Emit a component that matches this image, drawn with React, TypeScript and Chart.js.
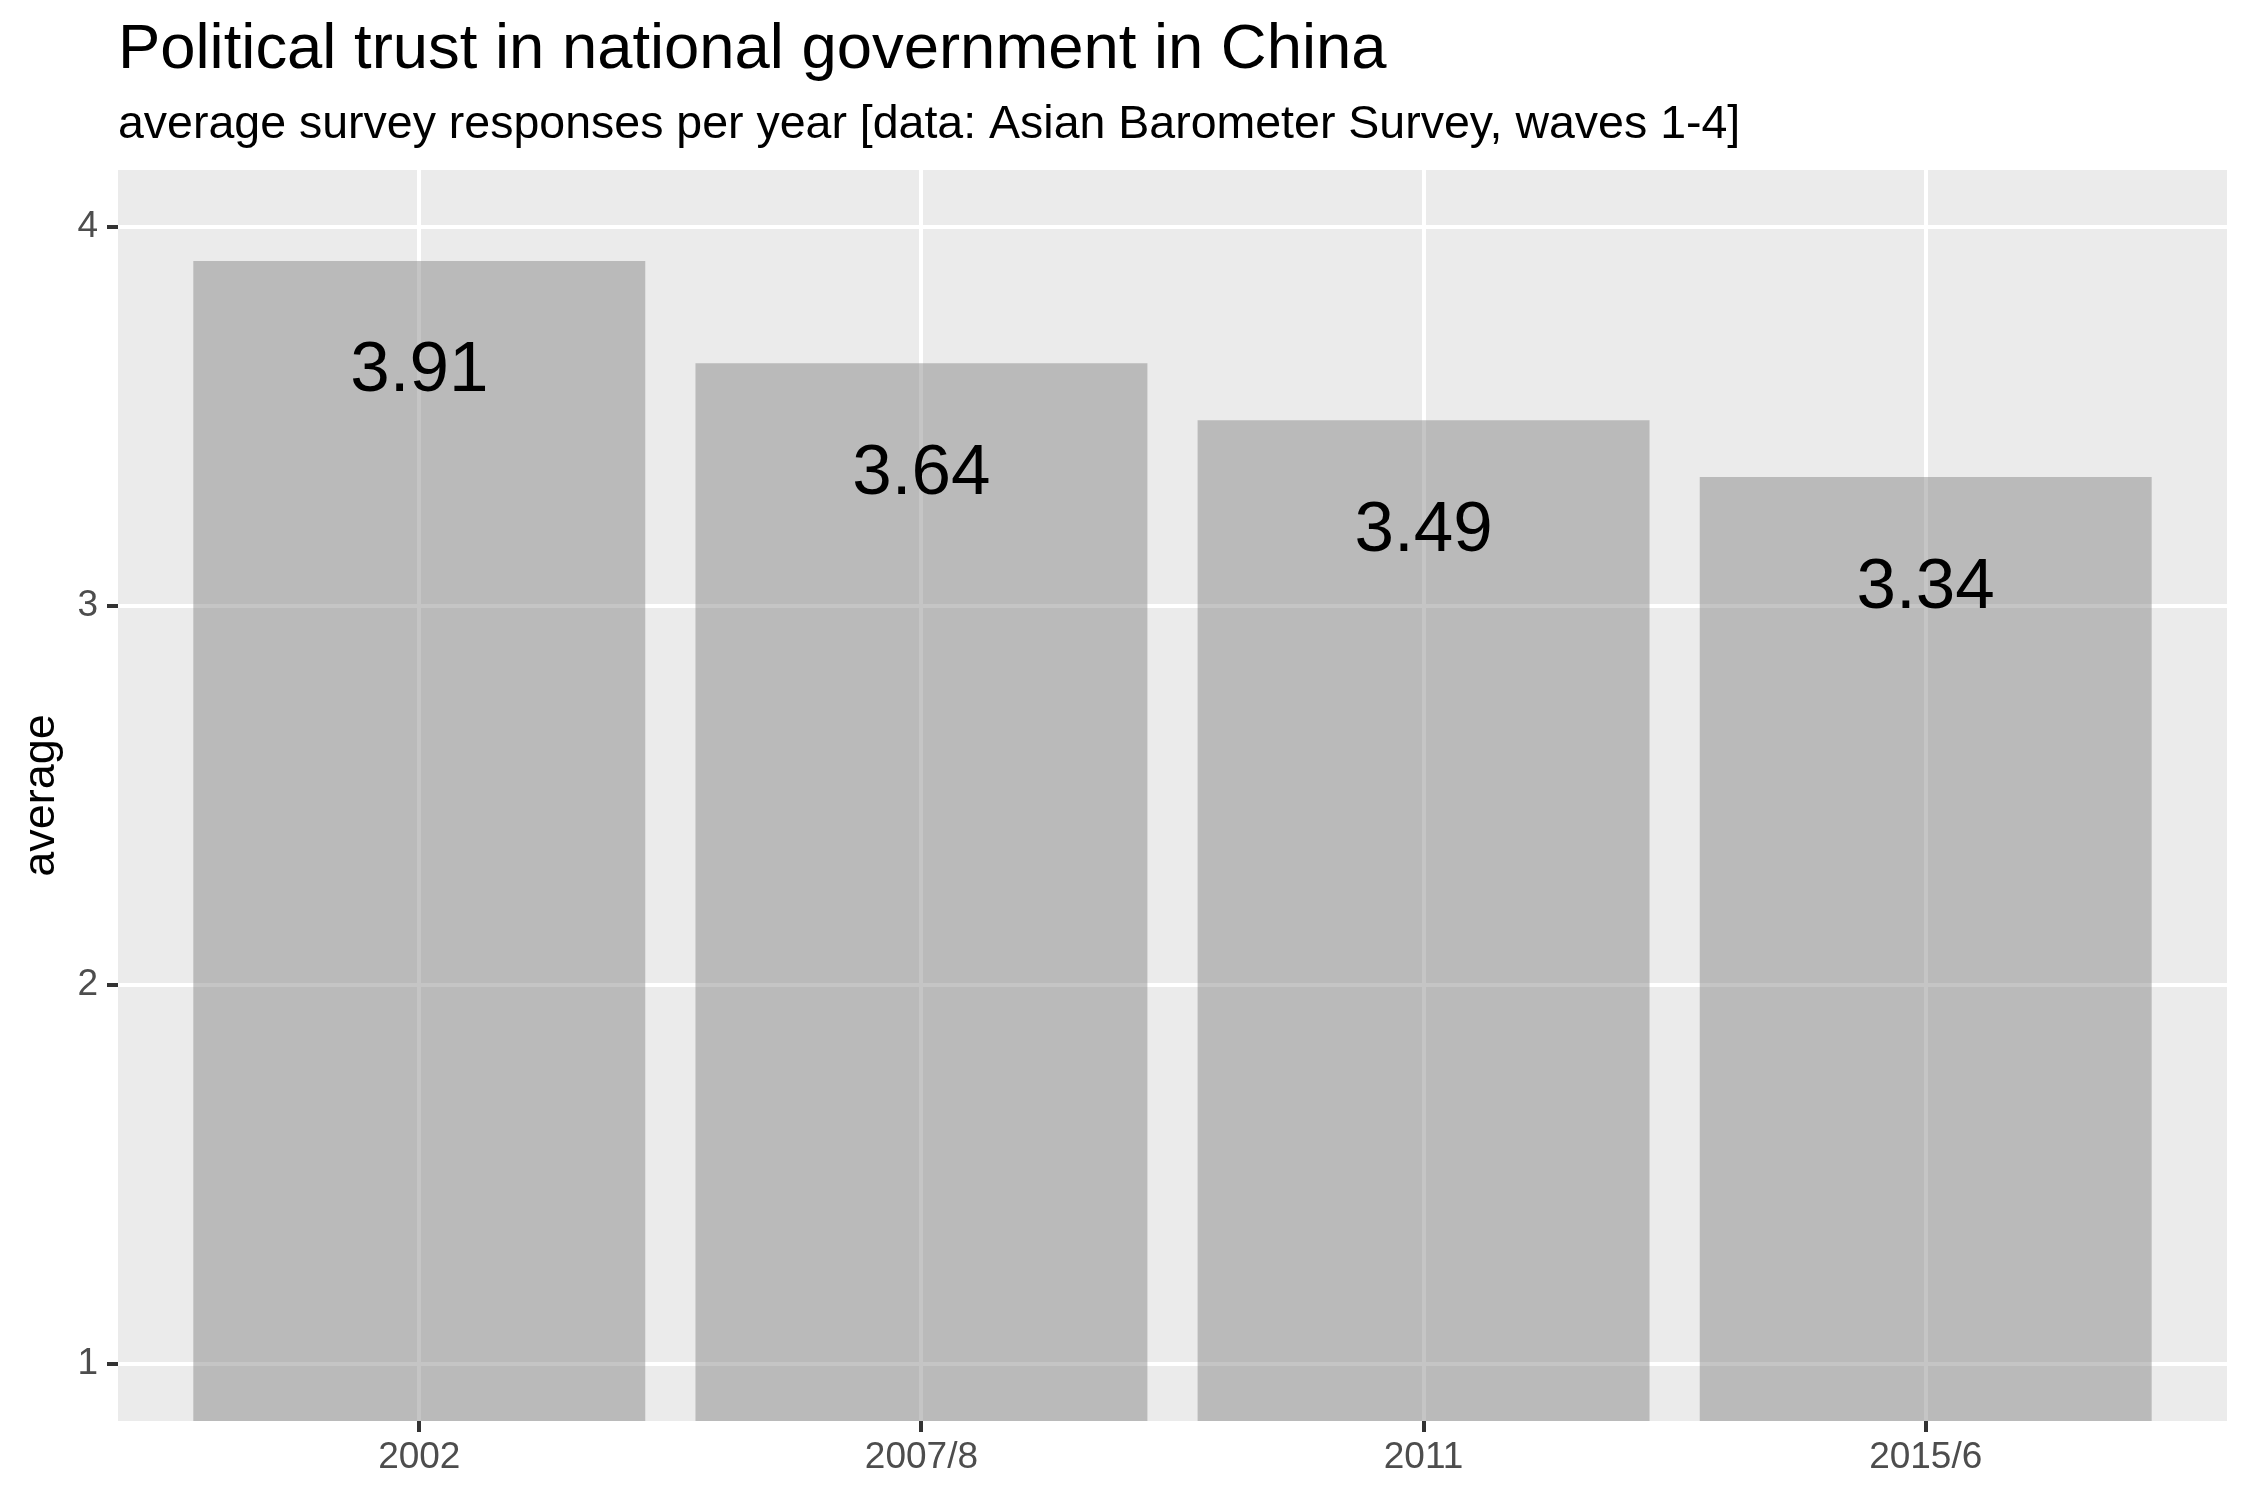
import React, { useEffect, useRef } from "react";
import { Chart, registerables } from "chart.js";

Chart.register(...registerables);

const categories: string[] = ["2002", "2007/8", "2011", "2015/6"];
const averages: number[] = [3.91, 3.64, 3.49, 3.34];
const valueLabels: string[] = ["3.91", "3.64", "3.49", "3.34"];
const yTicks: number[] = [1, 2, 3, 4];

const TITLE = "Political trust in national government in China";
const SUBTITLE = "average survey responses per year [data: Asian Barometer Survey, waves 1-4]";
const Y_TITLE = "average";

const FONT = "'Liberation Sans', Arial, Helvetica, sans-serif";

const panelBg = {
  id: "panelBg",
  beforeDraw(chart: any) {
    const { ctx, chartArea } = chart;
    ctx.save();
    ctx.fillStyle = "#EBEBEB";
    ctx.fillRect(chartArea.left, chartArea.top, chartArea.right - chartArea.left, chartArea.bottom - chartArea.top);
    ctx.restore();
  },
};

const barLabels = {
  id: "barLabels",
  afterDatasetsDraw(chart: any) {
    const { ctx } = chart;
    const meta = chart.getDatasetMeta(0);
    ctx.save();
    ctx.font = `71px ${FONT}`;
    ctx.fillStyle = "#000000";
    ctx.textAlign = "center";
    ctx.textBaseline = "alphabetic";
    meta.data.forEach((bar: any, i: number) => {
      ctx.fillText(valueLabels[i], bar.x, bar.y + 130.5);
    });
    ctx.restore();
  },
};

export default function App() {
  const ref = useRef<HTMLCanvasElement | null>(null);

  useEffect(() => {
    if (!ref.current) return;
    const chart = new Chart(ref.current, {
      type: "bar",
      data: {
        datasets: [
          {
            data: categories.map((_, i) => ({ x: i + 1, y: averages[i] })),
            backgroundColor: "rgba(127,127,127,0.45)",
            borderWidth: 0,
            barPercentage: 0.9,
            categoryPercentage: 1,
            clip: 0,
          } as any,
        ],
      },
      options: {
        animation: false,
        responsive: false,
        devicePixelRatio: 1,
        layout: { padding: { left: 0, right: 23, top: 0, bottom: 0 } },
        plugins: {
          legend: { display: false },
          tooltip: { enabled: false },
          title: {
            display: true,
            text: TITLE,
            align: "start",
            fullSize: false,
            color: "#000000",
            font: { family: FONT, size: 63.4, weight: "normal", lineHeight: 1 },
            padding: { top: 18.5, bottom: 0 },
          },
          subtitle: {
            display: true,
            text: SUBTITLE,
            align: "start",
            fullSize: false,
            color: "#000000",
            font: { family: FONT, size: 46.5, weight: "normal", lineHeight: 1 },
            padding: { top: 19.8, bottom: 21.8 },
          },
        },
        scales: {
          x: {
            type: "linear",
            min: 0.4,
            max: 4.6,
            offset: false,
            afterBuildTicks: (scale: any) => {
              scale.ticks = categories.map((_, i) => ({ value: i + 1 }));
            },
            afterFit: (scale: any) => {
              scale.height = 79;
            },
            ticks: {
              autoSkip: false,
              maxRotation: 0,
              padding: 7.4,
              color: "#4D4D4D",
              font: { family: FONT, size: 37, lineHeight: 1 },
              callback: (value: any) => categories[Math.round(Number(value)) - 1] ?? "",
            },
            grid: {
              offset: false,
              color: "#FFFFFF",
              lineWidth: 4,
              drawTicks: true,
              tickLength: 11,
              tickColor: "#333333",
              tickWidth: 4,
            },
            border: { display: false },
          },
          y: {
            type: "linear",
            min: 0.85,
            max: 4.15,
            afterBuildTicks: (scale: any) => {
              scale.ticks = yTicks.map((v) => ({ value: v }));
            },
            afterFit: (scale: any) => {
              scale.width = 118;
            },
            ticks: {
              padding: 9,
              color: "#4D4D4D",
              font: { family: FONT, size: 37, lineHeight: 1 },
              callback: (value: any) => String(value),
            },
            grid: {
              color: "#FFFFFF",
              lineWidth: 4,
              drawTicks: true,
              tickLength: 11,
              tickColor: "#333333",
              tickWidth: 4,
            },
            border: { display: false },
            title: {
              display: true,
              text: Y_TITLE,
              color: "#000000",
              font: { family: FONT, size: 45, lineHeight: 1 },
              padding: { top: 18.6, bottom: 0 },
            },
          },
        },
      },
      plugins: [panelBg, barLabels],
    });
    return () => chart.destroy();
  }, []);

  return (
    <div style={{ position: "absolute", left: 0, top: 0, width: 2250, height: 1500, background: "#FFFFFF" }}>
      <canvas ref={ref} width={2250} height={1500} style={{ width: 2250, height: 1500, display: "block" }} />
    </div>
  );
}
